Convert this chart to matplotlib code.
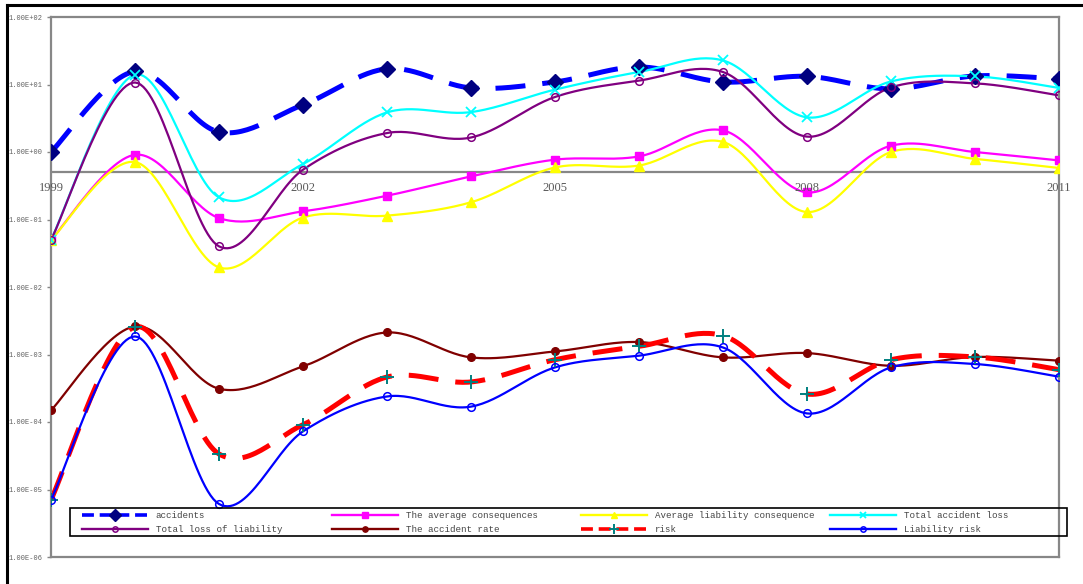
import numpy as np
import matplotlib
matplotlib.use("Agg")
import matplotlib.pyplot as plt
from matplotlib.lines import Line2D
from matplotlib.patches import Rectangle
from matplotlib import transforms

# ---- data -------------------------------------------------------------
years = list(range(1999, 2012))
year_labels = [1999, 2002, 2005, 2008, 2011]

accidents = [1.00, 15.6, 1.98, 5.0, 17.1, 8.9, 10.9, 18.2, 10.9, 13.2, 8.6, 13.4, 12.1]
avg_consequences = [0.05, 0.91, 0.105, 0.132, 0.225, 0.435, 0.77, 0.86, 2.09, 0.252, 1.24, 1.0, 0.75]
avg_liability_consequence = [0.05, 0.71, 0.0195, 0.107, 0.114, 0.18, 0.59, 0.63, 1.41, 0.129, 1.0, 0.79, 0.58]
total_accident_loss = [0.05, 14.0, 0.213, 0.664, 3.86, 3.9, 8.4, 15.3, 22.7, 3.26, 11.1, 13.2, 8.9]
total_liability_loss = [0.05, 10.7, 0.040, 0.547, 1.91, 1.64, 6.53, 11.4, 15.3, 1.69, 9.06, 10.4, 6.9]
accident_rate = [1.49e-4, 2.61e-3, 3.11e-4, 6.67e-4, 2.12e-3, 9.06e-4, 1.11e-3, 1.53e-3, 9.06e-4,
                 1.05e-3, 6.8e-4, 9.2e-4, 8.1e-4]
risk = [7.06e-6, 2.57e-3, 3.36e-5, 9.12e-5, 4.64e-4, 3.92e-4, 8.37e-4, 1.32e-3, 1.9e-3,
        2.6e-4, 8.37e-4, 9.2e-4, 5.96e-4]
liability_risk = [7.06e-6, 1.85e-3, 6.1e-6, 7.26e-5, 2.39e-4, 1.69e-4, 6.44e-4, 9.6e-4, 1.27e-3,
                  1.34e-4, 6.44e-4, 7.23e-4, 4.69e-4]

labels = ["accidents", "The average consequences", "Average liability consequence",
          "Total accident loss", "Total loss of liability", "The accident rate",
          "risk", "Liability risk"]
series = [accidents, avg_consequences, avg_liability_consequence, total_accident_loss,
          total_liability_loss, accident_rate, risk, liability_risk]


def smooth(xs, vals, n=30):
    """Bezier smoothing (Catmull-Rom style) in (x, log10 y) space."""
    P = np.column_stack([np.asarray(xs, float), np.log10(vals)])
    ext = np.vstack([P[0], P, P[-1]])
    t = np.linspace(0, 1, n + 1)[1:, None]
    out = [P[:1]]
    for i in range(len(P) - 1):
        p0, p1, p2, p3 = ext[i], ext[i + 1], ext[i + 2], ext[i + 3]
        c1 = p1 + (p2 - p0) / 6.0
        c2 = p2 - (p3 - p1) / 6.0
        seg = ((1 - t) ** 3) * p1 + 3 * ((1 - t) ** 2) * t * c1 + 3 * (1 - t) * t ** 2 * c2 + t ** 3 * p2
        out.append(seg)
    C = np.vstack(out)
    return C[:, 0], 10 ** C[:, 1]


# ---- styles -----------------------------------------------------------
styles = [
    dict(color="#0000FF", lw=3.6, ls=(0, (6, 3.4)), marker="D", mc="#000080", mfc="#000080", ms=8.5, mew=1),
    dict(color="#FF00FF", lw=1.6, ls="-", marker="s", mc="#FF00FF", mfc="#FF00FF", ms=6, mew=1),
    dict(color="#FFFF00", lw=1.6, ls="-", marker="^", mc="#FFFF00", mfc="#FFFF00", ms=6.5, mew=1),
    dict(color="#00FFFF", lw=1.6, ls="-", marker="x", mc="#00FFFF", mfc="#00FFFF", ms=6.5, mew=1.3),
    dict(color="#800080", lw=1.6, ls="-", marker="o", mc="#800080", mfc="none", ms=5.5, mew=1.1),
    dict(color="#800000", lw=1.6, ls="-", marker="o", mc="#800000", mfc="#800000", ms=5.5, mew=1),
    dict(color="#FF0000", lw=3.6, ls=(0, (6, 3.4)), marker="+", mc="#008080", mfc="#008080", ms=10, mew=1.4),
    dict(color="#0000FF", lw=1.6, ls="-", marker="o", mc="#0000FF", mfc="none", ms=5.5, mew=1.1),
]
legend_ls = [(0, (3.3, 1.6)), "-", "-", "-", "-", "-", (0, (3.3, 1.6)), "-"]

W, H = 1083, 584
fig = plt.figure(figsize=(W / 100, H / 100), dpi=100)
fig.patch.set_facecolor("white")
ax = fig.add_axes([51 / W, 1 - 557 / H, (1059 - 51) / W, (557 - 17) / H])

ax.set_yscale("log")
ax.set_ylim(1e-6, 1e2)
ax.set_xlim(1999, 2011)

handles = []
for vals, st, lab, lls in zip(series, styles, labels, legend_ls):
    sx, sy = smooth(years, vals)
    ax.plot(sx, sy, color=st["color"], lw=st["lw"], ls=st["ls"], solid_capstyle="butt",
            dash_capstyle="butt", zorder=2)
    ax.plot(years, vals, ls="none", marker=st["marker"], color=st["mc"], mfc=st["mfc"],
            mec=st["mc"], ms=st["ms"], mew=st["mew"], zorder=3)
    handles.append(Line2D([], [], color=st["color"], lw=min(st["lw"], 2.6) if st["lw"] > 2 else 1.7,
                          ls=lls, dash_capstyle="butt",
                          marker=st["marker"], mfc=st["mfc"], mec=st["mc"],
                          ms=st["ms"] * 0.7, mew=st["mew"], label=lab))

# ---- axes styling -----------------------------------------------------
grey = "#878787"
for sp in ax.spines.values():
    sp.set_color(grey)
    sp.set_linewidth(1.6)

ax.set_yticks([10.0 ** k for k in range(-6, 3)])
ax.set_yticklabels(["1.00E%+03d" % k for k in range(-6, 3)])
ax.yaxis.set_minor_locator(matplotlib.ticker.NullLocator())
ax.tick_params(axis="y", direction="out", length=3, width=1, color=grey, pad=3,
               labelsize=5.0, labelcolor="#606060")
for t in ax.get_yticklabels():
    t.set_family("Liberation Mono")

ax.set_xticks([])
ax.axhline(0.5, color=grey, lw=1.6, zorder=1.5)
lab_tr = transforms.offset_copy(ax.transData, fig=fig, x=0, y=-7, units="points")
for yr in year_labels:
    ax.text(yr, 0.5, str(yr), transform=lab_tr, ha="center", va="top",
            family="Liberation Serif", fontsize=9, color="#595959")

# ---- legend: four columns of two entries ------------------------------
col_x = [82, 332, 581, 830]
order = [(0, 4), (1, 5), (2, 6), (3, 7)]
fs = 6.6
for cx, (a, b) in zip(col_x, order):
    leg = fig.legend(handles=[handles[a], handles[b]], loc="upper left",
                     bbox_to_anchor=(cx / W, 1 - 511 / H), frameon=False,
                     borderpad=0, borderaxespad=0, handlelength=7.2, handletextpad=0.85,
                     labelspacing=0.56, numpoints=1,
                     prop={"family": "Liberation Mono", "size": fs})
    for txt in leg.get_texts():
        txt.set_color("#454545")

fig.add_artist(Rectangle((70 / W, 1 - 536 / H), (1067 - 70) / W, (536 - 508) / H,
                         transform=fig.transFigure, facecolor="none", edgecolor="black",
                         lw=1.2, zorder=5))

# outer frame (top and left edges)
fig.add_artist(Line2D([7 / W, 7 / W], [0, 1 - 5 / H], transform=fig.transFigure,
                      color="black", lw=2.2))
fig.add_artist(Line2D([7 / W, 1], [1 - 5 / H, 1 - 5 / H], transform=fig.transFigure,
                      color="black", lw=2.2))

fig.savefig("out.png", dpi=100, facecolor="white")
